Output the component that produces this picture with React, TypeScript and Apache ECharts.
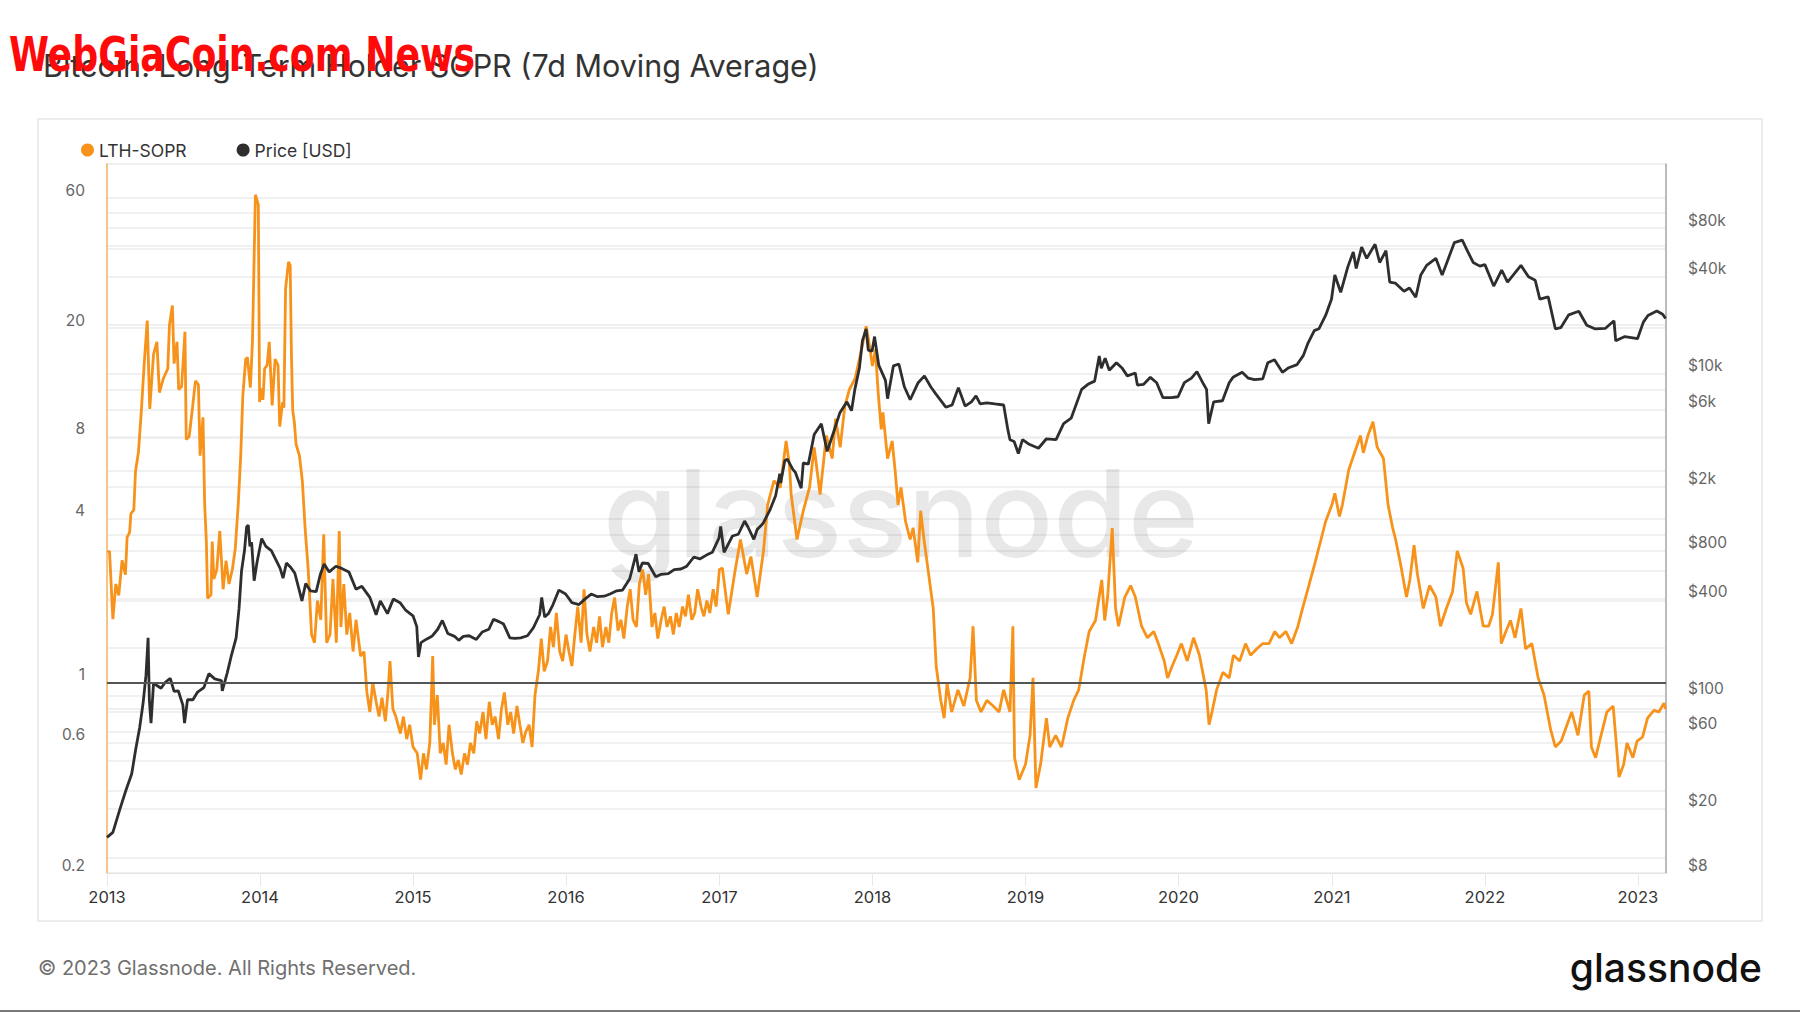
import React, { useEffect, useRef } from "react";
import * as echarts from "echarts";

const TITLE = "Bitcoin: Long-Term Holder SOPR (7d Moving Average)";
const SERIES_NAMES = ["LTH-SOPR", "Price [USD]"];

const X_MIN = "2013-01-01";
const X_MAX = "2023-03-09";
const YEAR_MS = 365 * 24 * 3600 * 1000;
const LEFT_LABELS = [0.2, 0.6, 1, 4, 8, 20, 60];
const LEFT_GRID = [0.2, 0.4, 0.6, 0.8, 1, 2, 4, 6, 8, 10, 20, 40, 60, 80];
const RIGHT_LABELS = [8, 20, 60, 100, 400, 800, 2000, 6000, 10000, 40000, 80000];
const RIGHT_GRID = [
  8, 10, 20, 40, 60, 80, 100, 200, 400, 600, 800, 1000, 2000, 4000, 6000, 8000,
  10000, 20000, 40000, 60000, 80000, 100000,
];

const SOPR_2013: [string, number][] = [
  ["2013-01-03", 3.0], ["2013-01-07", 3.04], ["2013-01-15", 1.71], ["2013-01-22", 2.3],
  ["2013-01-29", 2.09], ["2013-02-06", 2.81], ["2013-02-14", 2.49], ["2013-02-18", 3.42],
  ["2013-02-24", 3.56], ["2013-02-27", 4.17], ["2013-03-06", 4.3], ["2013-03-10", 5.96],
  ["2013-03-17", 7.0], ["2013-03-24", 9.97], ["2013-03-31", 15], ["2013-04-07", 21.3],
  ["2013-04-13", 10.1], ["2013-04-22", 16], ["2013-04-30", 17.8], ["2013-05-06", 11.6],
  ["2013-05-15", 13.0], ["2013-05-26", 14.2], ["2013-05-30", 20.5], ["2013-06-06", 24.2],
  ["2013-06-10", 14.8], ["2013-06-17", 17.8], ["2013-06-21", 11.9], ["2013-06-28", 12.2],
  ["2013-07-06", 19.4], ["2013-07-09", 7.8], ["2013-07-16", 8.0], ["2013-07-24", 10.2],
  ["2013-07-31", 12.8], ["2013-08-07", 12.4], ["2013-08-11", 6.8], ["2013-08-18", 9.4],
  ["2013-08-22", 4.5], ["2013-08-26", 3.3], ["2013-08-29", 2.04], ["2013-09-06", 2.1],
  ["2013-09-09", 3.29], ["2013-09-13", 2.4], ["2013-09-20", 2.6], ["2013-09-27", 3.6],
  ["2013-10-05", 2.2], ["2013-10-12", 2.8], ["2013-10-19", 2.3], ["2013-10-27", 2.6],
  ["2013-11-03", 3.1], ["2013-11-10", 4.5], ["2013-11-16", 6.8], ["2013-11-21", 11.3],
  ["2013-11-28", 15.4], ["2013-12-02", 15.6], ["2013-12-09", 12.1], ["2013-12-14", 17.8],
  ["2013-12-21", 61.7], ["2013-12-28", 56.6], ["2013-12-31", 10.7],
];
const SOPR_2014: [string, number][] = [
  ["2014-01-04", 12], ["2014-01-08", 10.9], ["2014-01-12", 14.2], ["2014-01-18", 14.6],
  ["2014-01-23", 17.8], ["2014-01-30", 10.4], ["2014-02-06", 15.4], ["2014-02-13", 14.6],
  ["2014-02-17", 8.7], ["2014-02-24", 10.7], ["2014-02-27", 10.2], ["2014-03-03", 27.9],
  ["2014-03-10", 35], ["2014-03-14", 34], ["2014-03-17", 15.9], ["2014-03-20", 10],
  ["2014-03-24", 9.0], ["2014-03-28", 7.5], ["2014-04-05", 6.8], ["2014-04-12", 5.5],
  ["2014-04-19", 3.6], ["2014-04-26", 2.6], ["2014-05-04", 1.5], ["2014-05-11", 1.4],
  ["2014-05-18", 2.0], ["2014-05-26", 1.7], ["2014-06-02", 3.5], ["2014-06-09", 1.4],
  ["2014-06-17", 1.5], ["2014-06-24", 2.4], ["2014-07-02", 1.4], ["2014-07-09", 3.6],
  ["2014-07-13", 1.6], ["2014-07-20", 2.3], ["2014-07-27", 1.5], ["2014-08-03", 1.8],
  ["2014-08-11", 1.3], ["2014-08-18", 1.7], ["2014-08-29", 1.25], ["2014-09-06", 1.3],
  ["2014-09-13", 0.92], ["2014-09-20", 0.78], ["2014-09-27", 1.0], ["2014-10-05", 0.85],
  ["2014-10-12", 0.75], ["2014-10-19", 0.88], ["2014-10-27", 0.72], ["2014-11-03", 0.95],
  ["2014-11-07", 1.2], ["2014-11-14", 0.8], ["2014-11-21", 0.75], ["2014-12-02", 0.65],
  ["2014-12-09", 0.75], ["2014-12-17", 0.62], ["2014-12-24", 0.7],
];
const SOPR_2015: [string, number][] = [
  ["2015-01-01", 0.58], ["2015-01-11", 0.55], ["2015-01-19", 0.44], ["2015-01-26", 0.55],
  ["2015-02-02", 0.48], ["2015-02-10", 0.6], ["2015-02-17", 1.25], ["2015-02-21", 0.7],
  ["2015-02-28", 0.9], ["2015-03-07", 0.55], ["2015-03-14", 0.6], ["2015-03-21", 0.5],
  ["2015-03-28", 0.7], ["2015-04-05", 0.55], ["2015-04-12", 0.48], ["2015-04-19", 0.52],
  ["2015-04-26", 0.46], ["2015-05-04", 0.55], ["2015-05-11", 0.5], ["2015-05-18", 0.6],
  ["2015-05-26", 0.55], ["2015-06-02", 0.72], ["2015-06-09", 0.65], ["2015-06-17", 0.78],
  ["2015-06-24", 0.62], ["2015-07-02", 0.85], ["2015-07-09", 0.7], ["2015-07-16", 0.75],
  ["2015-07-24", 0.62], ["2015-07-31", 0.8], ["2015-08-07", 0.92], ["2015-08-15", 0.7],
  ["2015-08-22", 0.78], ["2015-08-29", 0.65], ["2015-09-06", 0.82], ["2015-09-13", 0.7],
  ["2015-09-20", 0.6], ["2015-09-27", 0.66], ["2015-10-05", 0.7], ["2015-10-12", 0.58],
  ["2015-10-19", 0.9], ["2015-10-27", 1.1], ["2015-11-03", 1.45], ["2015-11-10", 1.1],
  ["2015-11-18", 1.2], ["2015-11-25", 1.6], ["2015-12-02", 1.35], ["2015-12-09", 1.8],
  ["2015-12-17", 1.3], ["2015-12-24", 1.2],
];
const SOPR_2016: [string, number][] = [
  ["2016-01-01", 1.5], ["2016-01-08", 1.3], ["2016-01-15", 1.15], ["2016-01-22", 1.5],
  ["2016-01-29", 1.9], ["2016-02-06", 1.4], ["2016-02-13", 2.2], ["2016-02-20", 1.5],
  ["2016-02-27", 1.3], ["2016-03-07", 1.6], ["2016-03-14", 1.4], ["2016-03-21", 1.75],
  ["2016-03-28", 1.35], ["2016-04-05", 1.6], ["2016-04-12", 1.4], ["2016-04-19", 1.8],
  ["2016-04-26", 2.05], ["2016-05-04", 1.55], ["2016-05-11", 1.7], ["2016-05-18", 1.45],
  ["2016-05-26", 1.9], ["2016-06-02", 2.2], ["2016-06-09", 1.7], ["2016-06-17", 1.6],
  ["2016-06-24", 2.3], ["2016-07-02", 2.6], ["2016-07-09", 2.1], ["2016-07-16", 2.5],
  ["2016-07-24", 1.6], ["2016-07-31", 1.8], ["2016-08-07", 1.45], ["2016-08-15", 1.7],
  ["2016-08-22", 1.9], ["2016-08-29", 1.6], ["2016-09-06", 1.75], ["2016-09-13", 1.5],
  ["2016-09-20", 1.8], ["2016-09-27", 1.6], ["2016-10-05", 1.9], ["2016-10-12", 1.75],
  ["2016-10-19", 2.1], ["2016-10-27", 1.7], ["2016-11-03", 1.8], ["2016-11-10", 2.2],
  ["2016-11-18", 1.9], ["2016-11-25", 1.75], ["2016-12-02", 2.0], ["2016-12-09", 1.8],
  ["2016-12-17", 2.2], ["2016-12-24", 1.9],
];
const SOPR_2017: [string, number][] = [
  ["2017-01-01", 2.6], ["2017-01-08", 2.63], ["2017-01-22", 1.78], ["2017-02-06", 2.5],
  ["2017-02-20", 3.35], ["2017-03-07", 2.5], ["2017-03-17", 2.9], ["2017-04-01", 2.06],
  ["2017-04-16", 3.04], ["2017-04-26", 4.49], ["2017-05-11", 5.5], ["2017-05-26", 5.2],
  ["2017-06-09", 7.7], ["2017-06-17", 6.3], ["2017-06-21", 4.9], ["2017-07-05", 3.35],
  ["2017-07-20", 4.27], ["2017-08-04", 5.2], ["2017-08-15", 7.3], ["2017-08-29", 4.9],
  ["2017-09-13", 8.06], ["2017-09-27", 6.64], ["2017-10-05", 9.3], ["2017-10-16", 7.3],
  ["2017-10-27", 10.3], ["2017-11-07", 11.9], ["2017-11-21", 13.1], ["2017-12-06", 16.7],
  ["2017-12-17", 20.3], ["2017-12-24", 17.6],
];
const SOPR_2018: [string, number][] = [
  ["2018-01-01", 14.5], ["2018-01-08", 16.7], ["2018-01-15", 11.4], ["2018-01-22", 8.5],
  ["2018-01-26", 9.8], ["2018-02-06", 6.64], ["2018-02-17", 7.7], ["2018-02-24", 6.02],
  ["2018-03-03", 4.49], ["2018-03-10", 5.2], ["2018-03-21", 3.9], ["2018-04-01", 3.35],
  ["2018-04-08", 3.7], ["2018-04-19", 2.76], ["2018-04-26", 4.27], ["2018-05-04", 3.35],
  ["2018-05-15", 2.5], ["2018-05-26", 1.87], ["2018-06-02", 1.15], ["2018-06-13", 0.86],
  ["2018-06-21", 0.74], ["2018-06-28", 0.99], ["2018-07-09", 0.78], ["2018-07-24", 0.94],
  ["2018-08-07", 0.82], ["2018-08-22", 1.04], ["2018-08-29", 1.61], ["2018-09-06", 0.86],
  ["2018-09-17", 0.78], ["2018-10-01", 0.86], ["2018-10-16", 0.82], ["2018-10-30", 0.78],
  ["2018-11-10", 0.94], ["2018-11-25", 0.78], ["2018-12-02", 1.61], ["2018-12-06", 0.53],
  ["2018-12-17", 0.44],
];
const SOPR_2019: [string, number][] = [
  ["2019-01-01", 0.5], ["2019-01-12", 0.64], ["2019-01-19", 1.04], ["2019-01-26", 0.41],
  ["2019-02-06", 0.5], ["2019-02-20", 0.74], ["2019-02-28", 0.58], ["2019-03-14", 0.64],
  ["2019-03-28", 0.58], ["2019-04-12", 0.74], ["2019-04-26", 0.86], ["2019-05-08", 0.94],
  ["2019-05-22", 1.26], ["2019-06-02", 1.54], ["2019-06-17", 1.69], ["2019-07-02", 2.38],
  ["2019-07-09", 1.69], ["2019-07-16", 2.06], ["2019-07-27", 3.69], ["2019-08-04", 1.87],
  ["2019-08-11", 1.61], ["2019-08-26", 2.06], ["2019-09-09", 2.27], ["2019-09-20", 2.06],
  ["2019-10-05", 1.61], ["2019-10-19", 1.46], ["2019-11-03", 1.54], ["2019-11-14", 1.39],
  ["2019-11-28", 1.2], ["2019-12-06", 1.04], ["2019-12-17", 1.15], ["2019-12-28", 1.26],
];
const SOPR_2020: [string, number][] = [
  ["2020-01-08", 1.39], ["2020-01-22", 1.2], ["2020-02-06", 1.46], ["2020-02-20", 1.26],
  ["2020-03-07", 0.94], ["2020-03-14", 0.7], ["2020-03-21", 0.78], ["2020-04-01", 0.94],
  ["2020-04-16", 1.09], ["2020-05-01", 1.04], ["2020-05-11", 1.26], ["2020-05-26", 1.2],
  ["2020-06-09", 1.39], ["2020-06-21", 1.26], ["2020-07-06", 1.33], ["2020-07-20", 1.39],
  ["2020-08-04", 1.39], ["2020-08-18", 1.54], ["2020-08-29", 1.46], ["2020-09-13", 1.54],
  ["2020-09-27", 1.39], ["2020-10-12", 1.61], ["2020-10-23", 1.87], ["2020-11-07", 2.27],
  ["2020-11-22", 2.76], ["2020-12-06", 3.35], ["2020-12-17", 3.9],
];
const SOPR_2021: [string, number][] = [
  ["2021-01-01", 4.49], ["2021-01-08", 4.95], ["2021-01-19", 4.07], ["2021-01-26", 4.49],
  ["2021-02-10", 6.02], ["2021-02-24", 6.97], ["2021-03-10", 8.06], ["2021-03-17", 6.97],
  ["2021-03-28", 8.06], ["2021-04-09", 9.06], ["2021-04-19", 7.31], ["2021-05-04", 6.64],
  ["2021-05-15", 4.49], ["2021-05-26", 3.69], ["2021-06-02", 3.35], ["2021-06-13", 2.76],
  ["2021-06-28", 2.06], ["2021-07-06", 2.38], ["2021-07-16", 3.19], ["2021-07-24", 2.5],
  ["2021-08-07", 1.87], ["2021-08-22", 2.27], ["2021-09-06", 2.06], ["2021-09-17", 1.61],
  ["2021-10-01", 1.87], ["2021-10-16", 2.16], ["2021-10-27", 3.04], ["2021-11-10", 2.63],
  ["2021-11-18", 1.96], ["2021-11-28", 1.78], ["2021-12-13", 2.16], ["2021-12-28", 1.61],
];
const SOPR_2022: [string, number][] = [
  ["2022-01-10", 1.61], ["2022-01-19", 1.78], ["2022-02-02", 2.76], ["2022-02-09", 1.39],
  ["2022-02-20", 1.54], ["2022-03-03", 1.69], ["2022-03-14", 1.46], ["2022-03-28", 1.87],
  ["2022-04-08", 1.33], ["2022-04-23", 1.39], ["2022-05-08", 1.04], ["2022-05-22", 0.9],
  ["2022-06-07", 0.67], ["2022-06-18", 0.58], ["2022-07-02", 0.61], ["2022-07-16", 0.7],
  ["2022-07-27", 0.78], ["2022-08-11", 0.64], ["2022-08-26", 0.9], ["2022-09-06", 0.93],
  ["2022-09-12", 0.58], ["2022-09-22", 0.53], ["2022-10-05", 0.64], ["2022-10-19", 0.78],
  ["2022-11-03", 0.82], ["2022-11-17", 0.45], ["2022-11-28", 0.5], ["2022-12-06", 0.6],
  ["2022-12-20", 0.53], ["2022-12-30", 0.61],
];
const SOPR_2023: [string, number][] = [
  ["2023-01-12", 0.63], ["2023-01-24", 0.74], ["2023-02-08", 0.79], ["2023-02-20", 0.78],
  ["2023-03-04", 0.84], ["2023-03-08", 0.8],
];

const PRICE_2013_2014: [string, number][] = [
  ["2013-01-01", 13.3], ["2013-01-15", 14.3], ["2013-02-01", 20], ["2013-02-15", 26],
  ["2013-03-01", 33], ["2013-03-10", 46], ["2013-03-20", 64], ["2013-03-28", 90],
  ["2013-04-04", 135], ["2013-04-09", 230], ["2013-04-12", 95], ["2013-04-16", 68],
  ["2013-04-22", 120], ["2013-05-01", 116], ["2013-05-10", 112], ["2013-05-20", 122],
  ["2013-06-01", 129], ["2013-06-10", 107], ["2013-06-20", 108], ["2013-07-01", 88],
  ["2013-07-05", 68], ["2013-07-12", 95], ["2013-07-25", 95], ["2013-08-05", 106],
  ["2013-08-20", 113], ["2013-09-01", 138], ["2013-09-15", 128], ["2013-10-01", 125],
  ["2013-10-03", 108], ["2013-10-15", 140], ["2013-10-25", 180], ["2013-11-05", 230],
  ["2013-11-12", 350], ["2013-11-18", 600], ["2013-11-25", 800], ["2013-11-30", 1120],
  ["2013-12-04", 1150], ["2013-12-08", 850], ["2013-12-12", 900], ["2013-12-18", 520],
  ["2013-12-25", 680], ["2014-01-05", 950], ["2014-01-15", 850], ["2014-01-28", 800],
  ["2014-02-08", 700], ["2014-02-18", 620], ["2014-02-25", 540], ["2014-03-05", 670],
  ["2014-03-15", 630], ["2014-03-25", 580], ["2014-04-05", 450], ["2014-04-11", 390],
  ["2014-04-20", 500], ["2014-05-01", 450], ["2014-05-15", 445], ["2014-05-25", 570],
  ["2014-06-03", 660], ["2014-06-15", 590], ["2014-07-01", 640], ["2014-07-15", 620],
  ["2014-08-01", 590], ["2014-08-18", 460], ["2014-09-01", 480], ["2014-09-20", 410],
  ["2014-10-05", 320], ["2014-10-15", 390], ["2014-11-01", 325], ["2014-11-15", 400],
  ["2014-12-01", 380], ["2014-12-15", 340],
];
const PRICE_2015_2016: [string, number][] = [
  ["2015-01-01", 315], ["2015-01-10", 270], ["2015-01-14", 175], ["2015-01-20", 215],
  ["2015-02-01", 225], ["2015-02-15", 235], ["2015-03-01", 260], ["2015-03-12", 295],
  ["2015-03-25", 245], ["2015-04-10", 235], ["2015-04-20", 222], ["2015-05-01", 235],
  ["2015-05-15", 237], ["2015-06-01", 225], ["2015-06-15", 250], ["2015-07-01", 260],
  ["2015-07-12", 300], ["2015-07-25", 290], ["2015-08-05", 280], ["2015-08-20", 230],
  ["2015-09-01", 228], ["2015-09-15", 230], ["2015-10-01", 237], ["2015-10-15", 265],
  ["2015-10-30", 320], ["2015-11-04", 410], ["2015-11-11", 310], ["2015-11-20", 325],
  ["2015-12-01", 370], ["2015-12-15", 455], ["2015-12-31", 430], ["2016-01-15", 380],
  ["2016-02-01", 370], ["2016-02-15", 400], ["2016-03-01", 430], ["2016-03-15", 415],
  ["2016-04-01", 417], ["2016-04-15", 430], ["2016-05-01", 450], ["2016-05-15", 455],
  ["2016-06-01", 535], ["2016-06-16", 760], ["2016-06-23", 590], ["2016-07-01", 670],
  ["2016-07-15", 665], ["2016-08-02", 550], ["2016-08-15", 570], ["2016-09-01", 575],
  ["2016-09-15", 610], ["2016-10-01", 615], ["2016-10-15", 640], ["2016-11-01", 730],
  ["2016-11-15", 710], ["2016-12-01", 750], ["2016-12-15", 780], ["2016-12-31", 960],
];
const PRICE_2017_2018: [string, number][] = [
  ["2017-01-04", 1130], ["2017-01-12", 780], ["2017-02-01", 985], ["2017-02-15", 1010],
  ["2017-03-02", 1220], ["2017-03-10", 1120], ["2017-03-24", 940], ["2017-04-01", 1080],
  ["2017-04-15", 1180], ["2017-05-01", 1420], ["2017-05-15", 1750], ["2017-05-25", 2400],
  ["2017-05-27", 2100], ["2017-06-06", 2900], ["2017-06-12", 2950], ["2017-06-25", 2550],
  ["2017-07-01", 2450], ["2017-07-15", 1950], ["2017-07-20", 2800], ["2017-08-01", 2750],
  ["2017-08-15", 4200], ["2017-09-01", 4900], ["2017-09-15", 3300], ["2017-10-01", 4400],
  ["2017-10-15", 5700], ["2017-11-01", 6700], ["2017-11-12", 5900], ["2017-11-20", 8000],
  ["2017-12-01", 10900], ["2017-12-08", 16000], ["2017-12-17", 19000], ["2017-12-22", 14000],
  ["2017-12-31", 13800], ["2018-01-06", 17000], ["2018-01-16", 11300], ["2018-02-01", 9100],
  ["2018-02-06", 7000], ["2018-02-20", 11200], ["2018-03-05", 11500], ["2018-03-18", 8300],
  ["2018-04-01", 6900], ["2018-04-20", 8800], ["2018-05-05", 9700], ["2018-05-20", 8300],
  ["2018-06-01", 7500], ["2018-06-25", 6200], ["2018-07-10", 6400], ["2018-07-25", 8200],
  ["2018-08-10", 6300], ["2018-08-25", 6700], ["2018-09-05", 7300], ["2018-09-15", 6500],
  ["2018-10-01", 6600], ["2018-10-20", 6500], ["2018-11-10", 6400], ["2018-11-20", 4500],
  ["2018-11-25", 3900], ["2018-12-05", 3800], ["2018-12-15", 3200], ["2018-12-25", 3900],
];
const PRICE_2019_2020: [string, number][] = [
  ["2019-01-10", 3650], ["2019-02-01", 3450], ["2019-02-20", 3950], ["2019-03-15", 3900],
  ["2019-04-02", 4900], ["2019-04-20", 5300], ["2019-05-15", 8000], ["2019-05-30", 8600],
  ["2019-06-15", 9000], ["2019-06-26", 12900], ["2019-07-01", 10800], ["2019-07-10", 12500],
  ["2019-07-20", 10500], ["2019-08-06", 11700], ["2019-08-20", 10800], ["2019-09-01", 9700],
  ["2019-09-20", 10100], ["2019-09-25", 8500], ["2019-10-10", 8600], ["2019-10-26", 9500],
  ["2019-11-10", 8800], ["2019-11-25", 7100], ["2019-12-15", 7100], ["2019-12-31", 7200],
  ["2020-01-15", 8800], ["2020-02-01", 9400], ["2020-02-14", 10300], ["2020-03-01", 8600],
  ["2020-03-08", 8000], ["2020-03-13", 4900], ["2020-03-25", 6700], ["2020-04-15", 6800],
  ["2020-05-01", 8800], ["2020-05-10", 9500], ["2020-06-01", 10200], ["2020-06-15", 9400],
  ["2020-07-01", 9200], ["2020-07-20", 9300], ["2020-08-01", 11700], ["2020-08-17", 12200],
  ["2020-09-05", 10200], ["2020-09-20", 10900], ["2020-10-10", 11400], ["2020-10-25", 13000],
  ["2020-11-05", 15500], ["2020-11-20", 18500], ["2020-12-01", 19000], ["2020-12-17", 23000],
  ["2020-12-31", 29000],
];
const PRICE_2021_2023: [string, number][] = [
  ["2021-01-08", 41000], ["2021-01-22", 32000], ["2021-02-08", 46000], ["2021-02-21", 57000],
  ["2021-02-28", 45000], ["2021-03-13", 61000], ["2021-03-25", 52000], ["2021-04-14", 63500],
  ["2021-04-25", 49000], ["2021-05-10", 58000], ["2021-05-19", 37000], ["2021-06-01", 36500],
  ["2021-06-22", 32500], ["2021-07-05", 34000], ["2021-07-20", 29800], ["2021-08-01", 41000],
  ["2021-08-15", 47000], ["2021-09-06", 52000], ["2021-09-21", 41000], ["2021-10-01", 48000],
  ["2021-10-20", 65000], ["2021-11-08", 67500], ["2021-11-20", 58000], ["2021-12-04", 49000],
  ["2021-12-20", 46500], ["2022-01-01", 47500], ["2022-01-22", 35000], ["2022-02-10", 44000],
  ["2022-02-24", 37000], ["2022-03-28", 47000], ["2022-04-15", 40000], ["2022-05-01", 38000],
  ["2022-05-12", 29000], ["2022-06-01", 30000], ["2022-06-18", 19000], ["2022-07-01", 19300],
  ["2022-07-20", 23200], ["2022-08-13", 24400], ["2022-09-01", 20000], ["2022-09-20", 19000],
  ["2022-10-15", 19100], ["2022-11-05", 21300], ["2022-11-09", 16000], ["2022-12-01", 17000],
  ["2022-12-31", 16500], ["2023-01-14", 20900], ["2023-01-25", 23000], ["2023-02-15", 24500],
  ["2023-03-01", 23400], ["2023-03-08", 22000],
];

const LTH_SOPR = [
  ...SOPR_2013, ...SOPR_2014, ...SOPR_2015, ...SOPR_2016, ...SOPR_2017, ...SOPR_2018,
  ...SOPR_2019, ...SOPR_2020, ...SOPR_2021, ...SOPR_2022, ...SOPR_2023,
];
const PRICE = [
  ...PRICE_2013_2014, ...PRICE_2015_2016, ...PRICE_2017_2018, ...PRICE_2019_2020, ...PRICE_2021_2023,
];

const FONT = 'Inter, "Noto Sans", sans-serif';
const ORANGE = "#f7931a";
const DARK = "#2e2e2e";

function priceLabel(v: number): string {
  const r = Math.round(v);
  return r >= 1000 ? "$" + Math.round(r / 1000) + "k" : "$" + r;
}

export default function App() {
  const ref = useRef<HTMLDivElement>(null);
  useEffect(() => {
    if (!ref.current) return;
    const chart = echarts.init(ref.current, undefined, { renderer: "svg" });
    chart.setOption({
      animation: false,
      backgroundColor: "#ffffff",
      title: {
        text: TITLE,
        left: 38,
        top: 45,
        textStyle: { fontFamily: FONT, fontSize: 30.5, fontWeight: "normal", color: "#333333" },
      },
      legend: {
        left: 76,
        top: 136,
        icon: "circle",
        itemWidth: 13,
        itemHeight: 13,
        itemGap: 50,
        data: SERIES_NAMES,
        textStyle: { fontFamily: FONT, fontSize: 17.5, color: "#333333" },
      },
      grid: {
        left: 107,
        right: 134,
        top: 164,
        bottom: 140,
        show: true,
        borderColor: "#e8e8e8",
        borderWidth: 1,
        outerBoundsMode: "none",
      },
      xAxis: {
        type: "time",
        min: X_MIN,
        max: X_MAX,
        minInterval: YEAR_MS,
        splitNumber: 10,
        axisLine: { show: true, lineStyle: { color: "#e4e4e4", width: 1 } },
        axisTick: { show: true, length: 13, lineStyle: { color: "#e8e8e8" } },
        axisLabel: {
          formatter: (v: number) => String(new Date(v).getFullYear()),
          fontFamily: FONT,
          fontSize: 16.5,
          color: "#333333",
          margin: 15,
          showMinLabel: true,
          showMaxLabel: false,
        },
        splitLine: { show: false },
      },
      yAxis: [
        {
          type: "log",
          position: "left",
          min: 0.2,
          max: 80,
          axisLine: { show: true, lineStyle: { color: "rgba(247,147,26,0.5)", width: 2 } },
          axisTick: { show: false, customValues: LEFT_GRID },
          axisLabel: {
            customValues: LEFT_LABELS,
            formatter: (v: number) => String(+Number(v).toPrecision(3)),
            fontFamily: FONT,
            fontSize: 15.5,
            color: "#666666",
            margin: 22,
            verticalAlign: "bottom",
          },
          splitLine: { show: true, lineStyle: { color: "#f0f0f0", width: 2 } },
        },
        {
          type: "log",
          position: "right",
          min: 8,
          max: 200000,
          axisLine: { show: true, lineStyle: { color: "#a8a8a8", width: 1.5 } },
          axisTick: { show: false, customValues: RIGHT_GRID },
          axisLabel: {
            customValues: RIGHT_LABELS,
            formatter: (v: number) => priceLabel(Number(v)),
            fontFamily: FONT,
            fontSize: 15.5,
            color: "#666666",
            margin: 22,
            verticalAlign: "bottom",
          },
          splitLine: { show: true, lineStyle: { color: "#f0f0f0", width: 2 } },
        },
      ],
      graphic: [
        {
          type: "rect",
          silent: true,
          z: -10,
          shape: { x: 38, y: 119, width: 1724, height: 802 },
          style: { fill: "none", stroke: "#e6e6e6", lineWidth: 1.5 },
        },
        {
          type: "text",
          silent: true,
          z: 1,
          x: 901,
          y: 513,
          style: {
            text: "glassnode",
            fontFamily: FONT,
            fontSize: 121,
            fontWeight: 500,
            fill: "rgba(0,0,0,0.09)",
            align: "center",
            verticalAlign: "middle",
          },
        },
        {
          type: "text",
          silent: true,
          x: 38,
          y: 968,
          style: {
            text: "© 2023 Glassnode. All Rights Reserved.",
            fontFamily: FONT,
            fontSize: 20,
            fill: "#707070",
            verticalAlign: "middle",
          },
        },
        {
          type: "text",
          silent: true,
          x: 1762,
          y: 967,
          style: {
            text: "glassnode",
            fontFamily: FONT,
            fontSize: 39,
            fontWeight: 500,
            fill: "#111111",
            align: "right",
            verticalAlign: "middle",
          },
        },
        {
          type: "line",
          silent: true,
          shape: { x1: 0, y1: 1011, x2: 1800, y2: 1011 },
          style: { stroke: "#7a7a7a", lineWidth: 2 },
        },
        {
          type: "text",
          silent: true,
          z: 100,
          x: 9,
          y: 54,
          scaleX: 0.84,
          style: {
            text: "WebGiaCoin.com News",
            fontFamily: '"Liberation Sans Narrow", "DejaVu Sans Condensed", sans-serif',
            fontSize: 48,
            fontWeight: "bold",
            fill: "#ff0a0a",
            verticalAlign: "middle",
          },
        },
      ],
      series: [
        {
          name: SERIES_NAMES[0],
          type: "line",
          yAxisIndex: 0,
          data: LTH_SOPR,
          showSymbol: false,
          symbol: "circle",
          z: 3,
          lineStyle: { color: ORANGE, width: 2.8 },
          itemStyle: { color: ORANGE },
          markLine: {
            silent: true,
            symbol: ["none", "none"],
            label: { show: false },
            lineStyle: { color: "#555555", width: 2, type: "solid" },
            data: [{ yAxis: 1 }],
          },
        },
        {
          name: SERIES_NAMES[1],
          type: "line",
          yAxisIndex: 1,
          data: PRICE,
          showSymbol: false,
          symbol: "circle",
          z: 4,
          lineStyle: { color: DARK, width: 2.8 },
          itemStyle: { color: DARK },
        },
      ],
    });
    return () => chart.dispose();
  }, []);
  return (
    <div
      ref={ref}
      style={{ position: "absolute", left: 0, top: 0, width: 1800, height: 1013, background: "#fff" }}
    />
  );
}
